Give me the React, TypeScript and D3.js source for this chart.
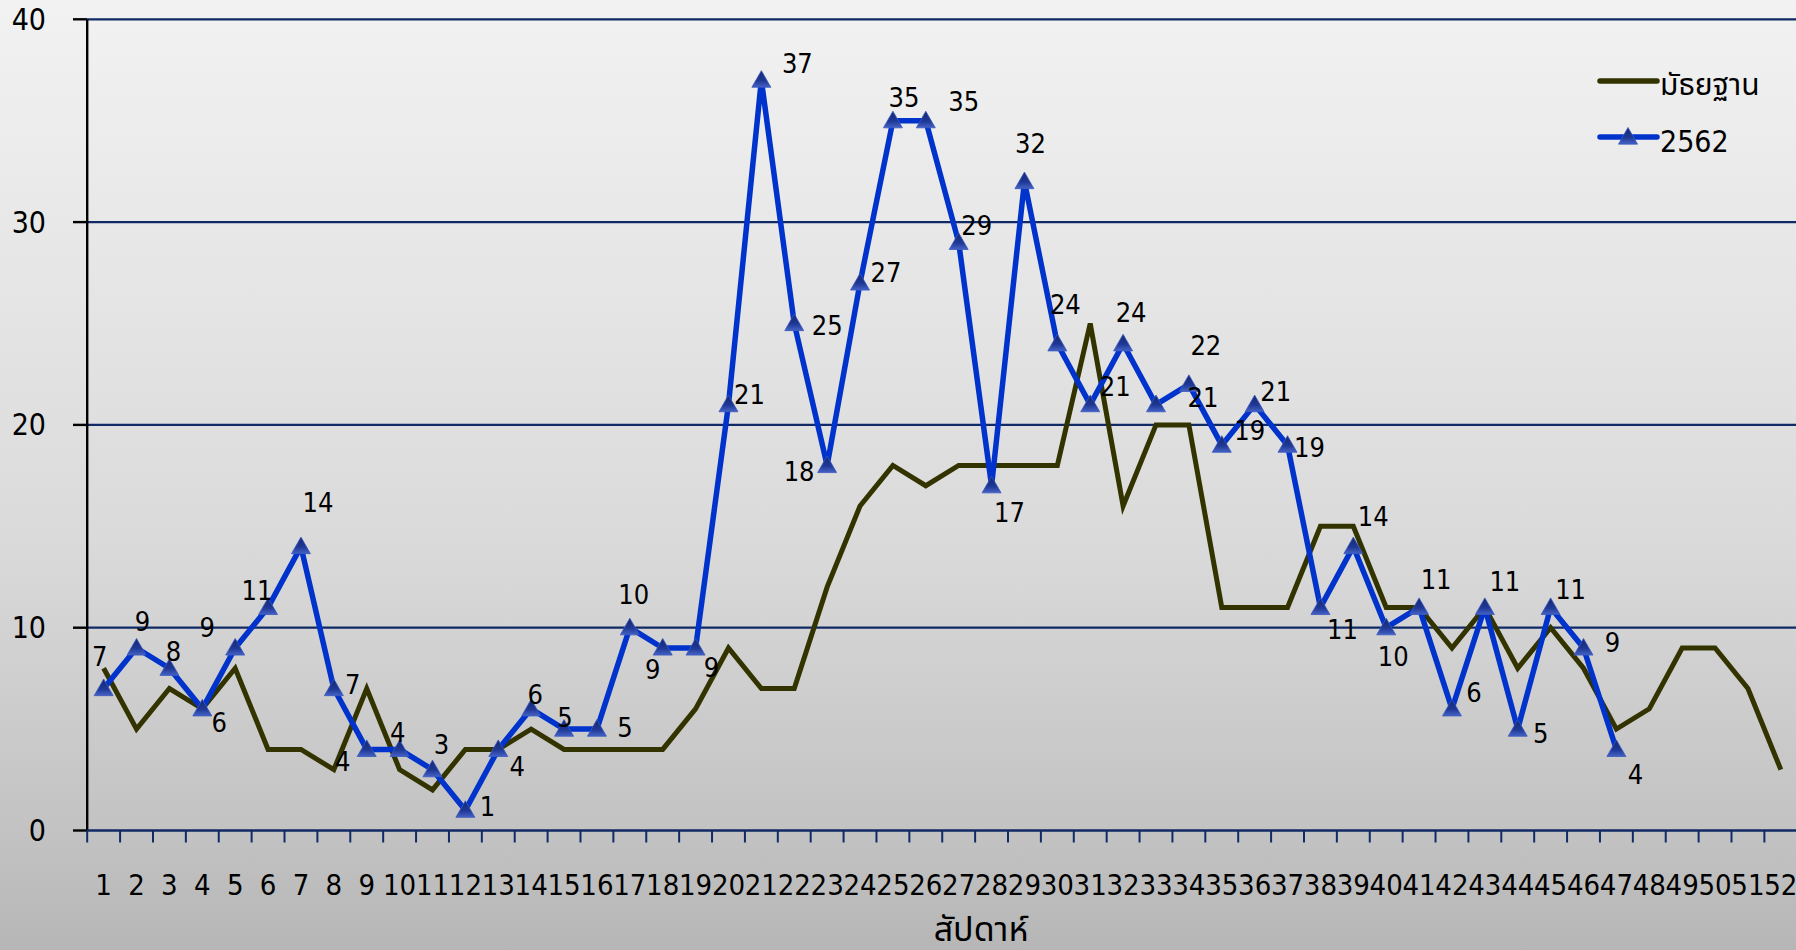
import React from "react";
import * as d3 from "d3";

const weeks = d3.range(1, 53).map(String);
const median = [8, 5, 7, 6, 8, 4, 4, 3, 7, 3, 2, 4, 4, 5, 4, 4, 4, 4, 6, 9, 7, 7, 12, 16, 18, 17, 18, 18, 18, 18, 25, 16, 20, 20, 11, 11, 11, 15, 15, 11, 11, 9, 11, 8, 10, 8, 5, 6, 9, 9, 7, 3];
const y2562 = [7, 9, 8, 6, 9, 11, 14, 7, 4, 4, 3, 1, 4, 6, 5, 5, 10, 9, 9, 21, 37, 25, 18, 27, 35, 35, 29, 17, 32, 24, 21, 24, 21, 22, 19, 21, 19, 11, 14, 10, 11, 6, 11, 5, 11, 9, 4];
const yTicks = [0, 10, 20, 30, 40];
const seriesNames = ["มัธยฐาน", "2562"];
const axisTitle = "สัปดาห์";

// manual data-label placement (pixel offsets from each point), as in the original
const labelOffsets: [number, number][] = [
  [-4, -32], [6, -26], [4, -17], [17, 14], [-28, -20], [-11, -17], [17, -44], [19, -4], [-24, 12], [-2, -17],
  [9, -25], [22, -4], [19, 17], [4, -14], [1, -12], [28, -2], [4, -33], [-10, 22], [16, 20], [21, -10],
  [36, -17], [33, 2], [-28, 6], [26, -10], [11, -23], [38, -19], [18, -17], [18, 27], [6, -38], [8, -39],
  [25, -18], [8, -31], [47, -7], [17, -39], [28, -15], [21, -13], [22, 2], [22, 22], [20, -30], [7, 29],
  [17, -28], [22, -16], [20, -26], [23, 4], [20, -18], [29, -5], [19, 25],
];

const W = 1796;
const H = 950;
const FONT = "'DejaVu Sans Condensed', 'Liberation Sans', 'Noto Sans Thai', 'Tahoma', sans-serif";

export default function App() {
  const x = d3.scaleBand<string>().domain(weeks).range([87.2, 87.2 + 52 * 32.886]).padding(0);
  const y = d3.scaleLinear().domain([0, 40]).range([830.5, 19.3]);
  const cx = (i: number) => (x(weeks[i]) as number) + x.bandwidth() / 2;

  const line = d3
    .line<number>()
    .x((_, i) => cx(i))
    .y((d) => y(d));

  const tri = (px: number, py: number) => {
    const s = 9.5;
    return `M${px},${py - s}L${px + s},${py + s * 0.75}L${px - s},${py + s * 0.75}Z`;
  };

  const grid = "#102a66";
  const x0 = 87.2;
  const x1 = W;

  return (
    <div style={{ position: "fixed", left: 0, top: 0, width: W, height: H }}>
      <svg width={W} height={H} style={{ display: "block", fontFamily: FONT }}>
        <defs>
          <linearGradient id="bg" x1="0" y1="0" x2="0" y2="1">
            <stop offset="0" stopColor="#f2f2f2" />
            <stop offset="0.57" stopColor="#dadada" />
            <stop offset="0.88" stopColor="#c2c2c2" />
            <stop offset="1" stopColor="#b6b6b6" />
          </linearGradient>
          <linearGradient id="mk" x1="0" y1="0" x2="0" y2="1">
            <stop offset="0" stopColor="#15286e" />
            <stop offset="0.6" stopColor="#1f3896" />
            <stop offset="1" stopColor="#4563c4" />
          </linearGradient>
        </defs>
        <rect x={0} y={0} width={W} height={H} fill="url(#bg)" />

        {/* grid lines */}
        {yTicks.filter((t) => t > 0).map((t) => (
          <line key={t} x1={x0} x2={x1} y1={y(t)} y2={y(t)} stroke={grid} strokeWidth={2.2} />
        ))}

        {/* y axis */}
        <line x1={x0} x2={x0} y1={y(40)} y2={y(0)} stroke="#000" strokeWidth={2.4} />
        {yTicks.map((t) => (
          <g key={t}>
            <line x1={73} x2={x0} y1={y(t)} y2={y(t)} stroke="#000" strokeWidth={2.4} />
            <text x={46} y={y(t)} textAnchor="end" dominantBaseline="central" fontSize={30} fill="#000">
              {t}
            </text>
          </g>
        ))}

        {/* x axis */}
        <line x1={x0} x2={x1} y1={y(0)} y2={y(0)} stroke={grid} strokeWidth={2.6} />
        {weeks.map((w) => (
          <line
            key={"t" + w}
            x1={x(w) as number}
            x2={x(w) as number}
            y1={y(0)}
            y2={y(0) + 12}
            stroke={grid}
            strokeWidth={2}
          />
        ))}
        {weeks.map((w, i) => (
          <text key={"l" + w} x={cx(i)} y={885} textAnchor="middle" dominantBaseline="central" fontSize={29} fill="#000">
            {w}
          </text>
        ))}
        <text x={981} y={941} textAnchor="middle" fontSize={34} fill="#000">
          {axisTitle}
        </text>

        {/* median line */}
        <path d={line(median) || ""} fill="none" stroke="#333300" strokeWidth={5} strokeLinejoin="miter" />

        {/* 2562 line */}
        <path d={line(y2562) || ""} fill="none" stroke="#0033cc" strokeWidth={5.5} strokeLinejoin="round" />
        {y2562.map((v, i) => (
          <path key={"m" + i} d={tri(cx(i), y(v))} fill="url(#mk)" stroke="#3a58c0" strokeWidth={0.8} />
        ))}
        {y2562.map((v, i) => (
          <text
            key={"d" + i}
            x={cx(i) + labelOffsets[i][0]}
            y={y(v) + labelOffsets[i][1]}
            textAnchor="middle"
            dominantBaseline="central"
            fontSize={27}
            fill="#000"
          >
            {v}
          </text>
        ))}

        {/* legend */}
        <line x1={1600} x2={1657} y1={81} y2={81} stroke="#333300" strokeWidth={5.5} strokeLinecap="round" />
        <text x={1660} y={95} fontSize={30} fill="#000">
          {seriesNames[0]}
        </text>
        <line x1={1600} x2={1657} y1={137} y2={137} stroke="#0033cc" strokeWidth={5.5} strokeLinecap="round" />
        <path d={tri(1628, 137)} fill="url(#mk)" stroke="#3a58c0" strokeWidth={0.8} />
        <text x={1660} y={152} fontSize={30} fill="#000">
          {seriesNames[1]}
        </text>
      </svg>
    </div>
  );
}
